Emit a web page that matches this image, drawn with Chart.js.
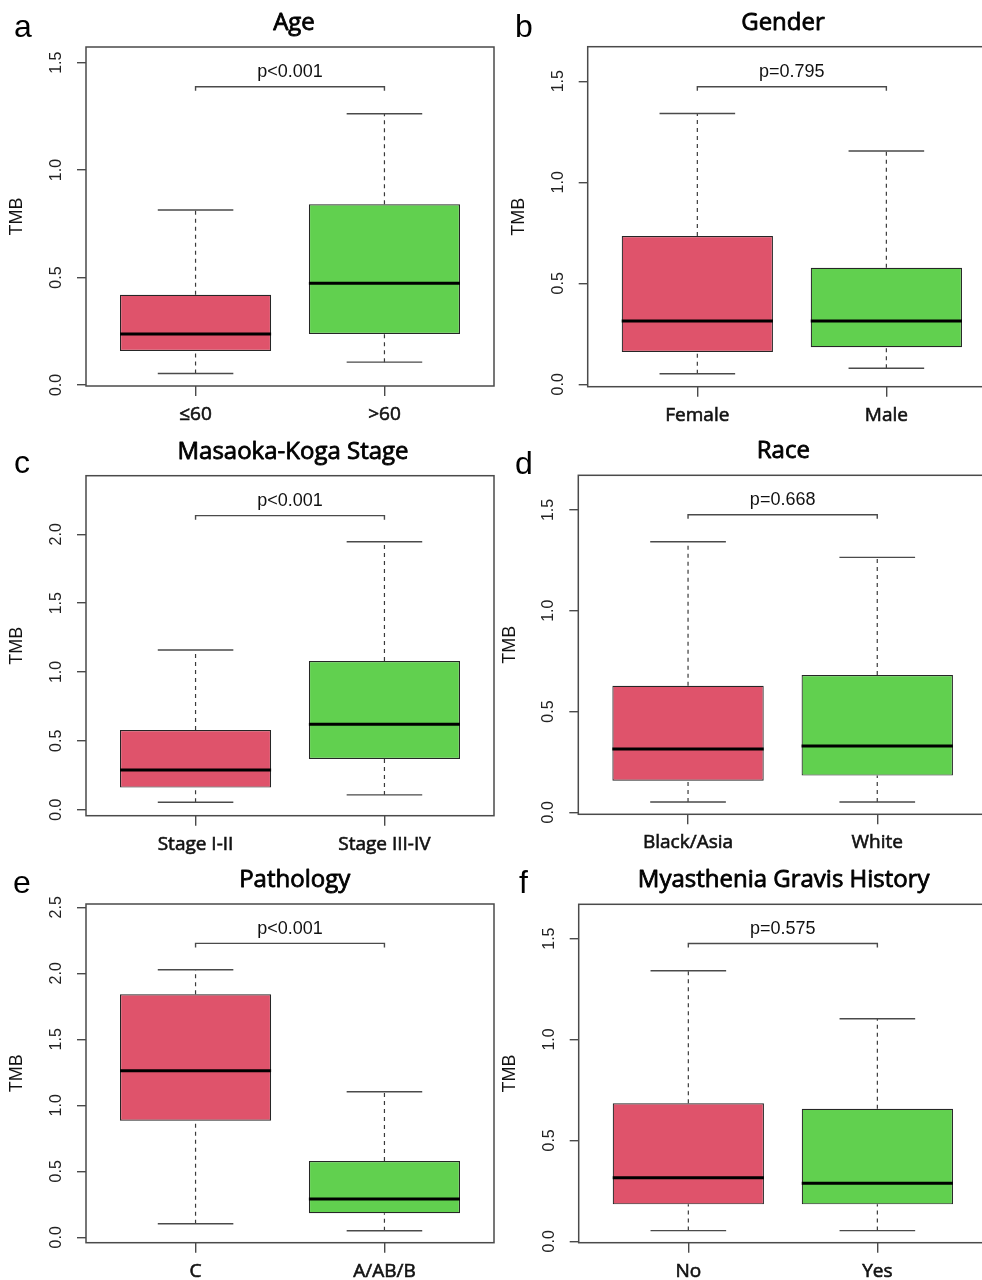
<!DOCTYPE html>
<html>
<head>
<meta charset="utf-8">
<script src="https://cdn.jsdelivr.net/npm/chart.js@4.4.1/dist/chart.umd.min.js"></script>
<style>
  html, body { margin: 0; padding: 0; background: #fff; overflow: hidden; }
  #figure { position: relative; width: 982px; height: 1280px; overflow: hidden; background: #fff; }
  #figure canvas { position: absolute; }
</style>
</head>
<body>
<div id="figure"></div>
<script>
// ---- data ----
const panelLetters = ['a', 'b', 'c', 'd', 'e', 'f'];
const titles = ['Age', 'Gender', 'Masaoka-Koga Stage', 'Race', 'Pathology', 'Myasthenia Gravis History'];
const groupLabels = [
  ['\u226460', '>60'],
  ['Female', 'Male'],
  ['Stage I-II', 'Stage III-IV'],
  ['Black/Asia', 'White'],
  ['C', 'A/AB/B'],
  ['No', 'Yes']
];
const whiskerLow  = [[0.053, 0.106], [0.052, 0.079], [0.054, 0.107], [0.051, 0.051], [0.103, 0.050], [0.053, 0.053]];
const quartile1   = [[0.158, 0.237], [0.160, 0.183], [0.160, 0.368], [0.157, 0.182], [0.883, 0.182], [0.183, 0.183]];
const medians     = [[0.237, 0.473], [0.313, 0.313], [0.288, 0.620], [0.314, 0.329], [1.262, 0.290], [0.315, 0.287]];
const quartile3   = [[0.420, 0.841], [0.734, 0.577], [0.579, 1.080], [0.628, 0.681], [1.841, 0.578], [0.684, 0.657]];
const whiskerHigh = [[0.814, 1.262], [1.340, 1.155], [1.160, 1.946], [1.342, 1.265], [2.027, 1.103], [1.341, 1.103]];
const pValues = ['p<0.001', 'p=0.795', 'p<0.001', 'p=0.668', 'p<0.001', 'p=0.575'];
const bracketHeights = [1.388, 1.473, 2.136, 1.476, 2.227, 1.476];
const yMin = [-0.005, -0.012, -0.044, -0.010, -0.041, -0.007];
const yMax = [1.573, 1.671, 2.426, 1.672, 2.525, 1.670];
const yStep = 0.5;

// ---- layout (page pixels) ----
// canvas: [left, top, width, height]; plot box: [left, top, right, bottom]
const canvasBoxes = [[0, 0, 496, 428], [496, 0, 510, 428], [0, 428, 496, 427], [496, 428, 500, 427], [0, 855, 496, 425], [496, 855, 500, 425]];
const plotBoxes = [[86, 47, 494, 386], [587.7, 46.7, 996, 386.7], [86, 475.7, 494, 815.7], [578.3, 475.3, 987, 814.3], [86, 904, 494, 1242.7], [578.7, 904.3, 987, 1242.7]];
const letterSpots = [[14, 36.7], [515, 36.7], [14, 473], [515, 474], [13, 893], [519, 893]];
const titleCenters = [294, 783, 293, 783.3, 294.7, 783.7];

const BOX_COLORS = ['#DF536B', '#61D04F'];
const AXIS_GREY = '#4a4a4a';
const ARIAL = "'Liberation Sans', Arial, Helvetica, sans-serif";
const SANS = "'Open Sans', 'Noto Sans', sans-serif";

function gapPoint(x) {
  return {x: x, y: null};
}

function buildDatasets(i) {
  const xs = groupLabels[i].map((label, k) => k + 1);
  const whiskers = [];
  const staples = [];
  const middles = [];
  xs.forEach((x, k) => {
    whiskers.push({x: x, y: quartile3[i][k]}, {x: x, y: whiskerHigh[i][k]}, gapPoint(x));
    whiskers.push({x: x, y: whiskerLow[i][k]}, {x: x, y: quartile1[i][k]}, gapPoint(x));
    staples.push({x: x - 0.2, y: whiskerHigh[i][k]}, {x: x + 0.2, y: whiskerHigh[i][k]}, gapPoint(x));
    staples.push({x: x - 0.2, y: whiskerLow[i][k]}, {x: x + 0.2, y: whiskerLow[i][k]}, gapPoint(x));
    middles.push({x: x - 0.4, y: medians[i][k]}, {x: x + 0.4, y: medians[i][k]}, gapPoint(x));
  });

  // little downward ends of the p value bracket
  const drop = 0.012 * (yMax[i] - yMin[i]);
  const top = bracketHeights[i];
  const bracket = [{x: 1, y: top - drop}, {x: 1, y: top}, {x: 2, y: top}, {x: 2, y: top - drop}];

  const lineBase = {type: 'line', pointRadius: 0, fill: false, spanGaps: false, tension: 0};
  return [
    Object.assign({}, lineBase, {data: whiskers, borderColor: '#3a3a3a', borderWidth: 1.2, borderDash: [4, 4], order: 4}),
    {
      type: 'bar',
      data: xs.map((x, k) => ({x: x, y: [quartile1[i][k], quartile3[i][k]]})),
      backgroundColor: BOX_COLORS,
      borderColor: '#262626',
      borderWidth: 1.2,
      borderSkipped: false,
      barPercentage: 0.8,
      categoryPercentage: 1,
      order: 3
    },
    Object.assign({}, lineBase, {data: staples, borderColor: AXIS_GREY, borderWidth: 1.4, order: 2}),
    Object.assign({}, lineBase, {data: middles, borderColor: '#000', borderWidth: 3, order: 1}),
    Object.assign({}, lineBase, {data: bracket, borderColor: AXIS_GREY, borderWidth: 1.4, order: 0})
  ];
}

// frame round the plot, panel letter, title and p value
const panelDecor = {
  id: 'panelDecor',
  afterDraw(chart, args, opts) {
    const ctx = chart.ctx;
    const area = chart.chartArea;
    const i = opts.index;
    const cb = canvasBoxes[i];
    ctx.save();
    ctx.strokeStyle = AXIS_GREY;
    ctx.lineWidth = 1.5;
    ctx.strokeRect(area.left, area.top, area.right - area.left, area.bottom - area.top);

    ctx.fillStyle = '#000';
    ctx.textBaseline = 'alphabetic';
    ctx.textAlign = 'left';
    ctx.font = '32px ' + ARIAL;
    ctx.fillText(panelLetters[i], letterSpots[i][0] - cb[0], letterSpots[i][1] - cb[1]);

    // titles are set a little heavier than the regular cut
    ctx.textAlign = 'center';
    ctx.font = '24px ' + SANS;
    ctx.strokeStyle = '#000';
    ctx.lineWidth = 0.8;
    ctx.lineJoin = 'round';
    const tx = titleCenters[i] - cb[0];
    const ty = area.top - 17.2;
    ctx.fillText(titles[i], tx, ty);
    ctx.strokeText(titles[i], tx, ty);

    const xs = chart.scales.x;
    const ys = chart.scales.y;
    ctx.font = '18px ' + ARIAL;
    ctx.fillStyle = '#111';
    ctx.fillText(pValues[i], xs.getPixelForValue(1.5), ys.getPixelForValue(bracketHeights[i]) - 9.4);
    ctx.restore();
  }
};

function makePanel(i) {
  const cb = canvasBoxes[i];
  const pb = plotBoxes[i];
  const canvas = document.createElement('canvas');
  canvas.width = cb[2];
  canvas.height = cb[3];
  canvas.style.left = cb[0] + 'px';
  canvas.style.top = cb[1] + 'px';
  document.getElementById('figure').appendChild(canvas);

  const config = {
    type: 'bar',
    data: {datasets: buildDatasets(i)},
    plugins: [panelDecor],
    options: {
      responsive: false,
      animation: false,
      events: [],
      layout: {
        padding: {left: 0, top: pb[1] - cb[1], right: cb[0] + cb[2] - pb[2], bottom: 0}
      },
      scales: {
        x: {
          type: 'linear',
          min: 0.42,
          max: 2.58,
          offset: false,
          afterFit: (scale) => { scale.height = cb[1] + cb[3] - pb[3]; },
          grid: {drawOnChartArea: false, offset: false, tickLength: 10, color: AXIS_GREY, lineWidth: 1.4},
          border: {display: false},
          ticks: {
            stepSize: 1,
            includeBounds: false,
            autoSkip: false,
            maxRotation: 0,
            padding: 7,
            color: '#111',
            textStrokeColor: '#111',
            textStrokeWidth: 0.6,
            font: {family: SANS, size: 19},
            callback: (v) => groupLabels[i][v - 1] || ''
          }
        },
        y: {
          min: yMin[i],
          max: yMax[i],
          afterFit: (scale) => { scale.width = pb[0] - cb[0]; },
          grid: {drawOnChartArea: false, tickLength: 9, color: AXIS_GREY, lineWidth: 1.4},
          border: {display: false},
          title: {
            display: true,
            text: 'TMB',
            color: '#111',
            font: {family: ARIAL, size: 18},
            padding: {top: pb[0] - cb[0] - 68.5 - 10.8, bottom: 0}
          },
          ticks: {
            stepSize: yStep,
            includeBounds: false,
            minRotation: 90,
            maxRotation: 90,
            crossAlign: 'center',
            padding: 9.4,
            color: '#222',
            font: {family: ARIAL, size: 16},
            callback: (v) => v.toFixed(1)
          }
        }
      },
      plugins: {
        legend: {display: false},
        tooltip: {enabled: false},
        title: {display: false},
        panelDecor: {index: i}
      }
    }
  };
  return new Chart(canvas, config);
}

titles.forEach((t, i) => makePanel(i));
</script>
</body>
</html>
